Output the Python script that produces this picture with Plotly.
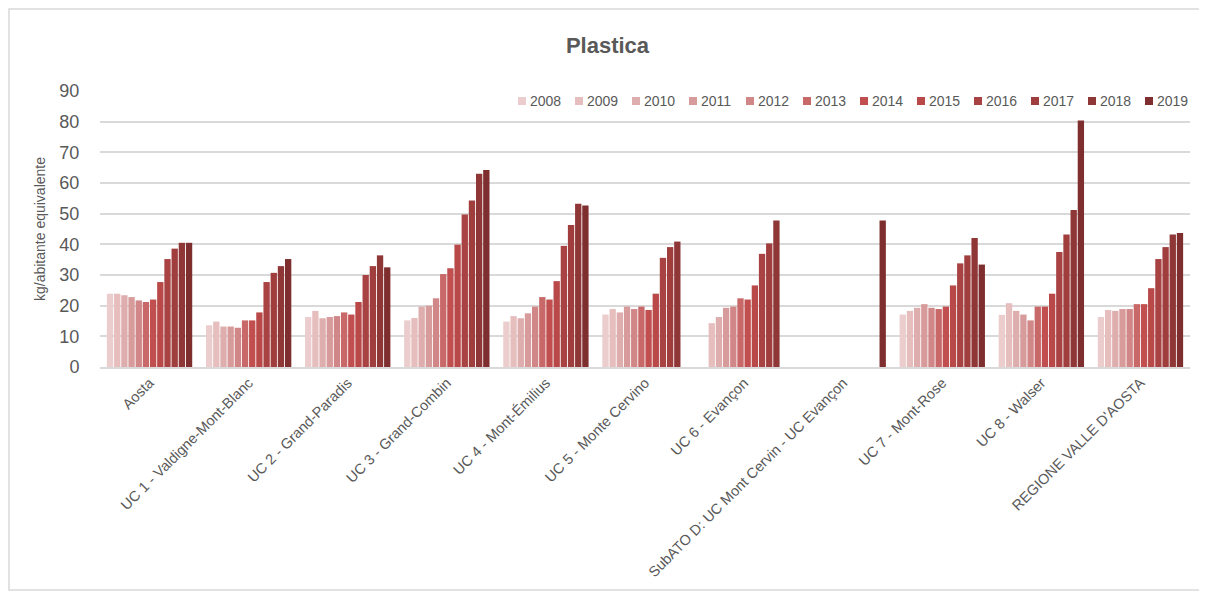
import plotly.graph_objects as go

years = ["2008", "2009", "2010", "2011", "2012", "2013", "2014", "2015", "2016", "2017", "2018", "2019"]

categories = [
    "Aosta",
    "UC 1 - Valdigne-Mont-Blanc",
    "UC 2 - Grand-Paradis",
    "UC 3 - Grand-Combin",
    "UC 4 - Mont-Émilius",
    "UC 5 - Monte Cervino",
    "UC 6 - Evançon",
    "SubATO D: UC Mont Cervin - UC Evançon",
    "UC 7 - Mont-Rose",
    "UC 8 - Walser",
    "REGIONE VALLE D'AOSTA",
]

# values per category, years 2008..2019 (None = no data)
aosta = [23.9, 23.9, 23.4, 22.8, 21.7, 21.2, 22.0, 27.7, 35.2, 38.6, 40.5, 40.5]
uc1 = [13.6, 14.8, 13.2, 13.2, 12.8, 15.2, 15.2, 17.8, 27.7, 30.7, 32.9, 35.2]
uc2 = [16.3, 18.3, 15.9, 16.3, 16.6, 17.8, 17.1, 21.2, 30.0, 32.9, 36.4, 32.5]
uc3 = [15.2, 16.0, 19.7, 20.0, 22.4, 30.3, 32.2, 39.9, 49.7, 54.3, 63.0, 64.2]
uc4 = [14.8, 16.6, 15.9, 17.5, 19.7, 22.8, 22.0, 28.0, 39.5, 46.3, 53.2, 52.7]
uc5 = [17.1, 18.9, 17.8, 19.7, 18.9, 19.7, 18.6, 23.9, 35.6, 39.1, 40.9, None]
uc6 = [None, 14.3, 16.3, 19.3, 19.7, 22.4, 22.0, 26.6, 36.9, 40.3, 47.8, None]
subato_d = [None, None, None, None, None, None, None, None, None, None, None, 47.8]
uc7 = [17.1, 18.3, 19.3, 20.5, 19.3, 18.9, 19.7, 26.6, 33.8, 36.4, 42.1, 33.4]
uc8 = [17.0, 20.8, 18.3, 17.1, 15.2, 19.7, 19.7, 23.9, 37.5, 43.2, 51.2, 80.4]
regione = [16.3, 18.6, 18.3, 18.9, 18.9, 20.5, 20.5, 25.7, 35.2, 39.1, 43.2, 43.7]

by_category = [aosta, uc1, uc2, uc3, uc4, uc5, uc6, subato_d, uc7, uc8, regione]

y_ticks = [0, 10, 20, 30, 40, 50, 60, 70, 80, 90]

colors = ["#EBCDCD", "#E6BEBE", "#DEAEAE", "#D89B9B", "#D18787", "#C96868",
          "#C14F4F", "#B94848", "#A94343", "#A03E3E", "#8F3636", "#7E2E2E"]

grey = "#595959"

fig = go.Figure()
for i, yr in enumerate(years):
    fig.add_trace(go.Bar(
        name=yr,
        x=categories,
        y=[vals[i] for vals in by_category],
        marker=dict(color=colors[i], line=dict(width=0)),
        showlegend=False,
    ))

# plot area geometry (figure px): left 92, width 1090, top 83, height 276
PL, PW, PT, PH = 92, 1090, 83, 276


def px_x(x):
    return (x - PL) / PW


def px_y(y):
    return (PT + PH - y) / PH


# legend drawn as a row of swatches + labels (Excel-style compact legend)
shapes = [dict(type="rect", xref="paper", yref="paper",
               x0=px_x(1), x1=px_x(1192), y0=px_y(582), y1=px_y(1),
               line=dict(color="#D9D9D9", width=1.5), fillcolor="rgba(0,0,0,0)", layer="below")]
annotations = []
leg_x0, leg_step, leg_yc = 510, 57, 93
for i, yr in enumerate(years):
    sx = leg_x0 + i * leg_step
    shapes.append(dict(type="rect", xref="paper", yref="paper",
                       x0=px_x(sx), x1=px_x(sx + 8), y0=px_y(leg_yc + 4), y1=px_y(leg_yc - 4),
                       line=dict(width=0), fillcolor=colors[i]))
    annotations.append(dict(text=yr, xref="paper", yref="paper", x=px_x(sx + 10), y=px_y(leg_yc),
                            xanchor="left", yanchor="middle", showarrow=False,
                            font=dict(size=14, color=grey)))

fig.update_layout(
    width=1199, height=589,
    barmode="group",
    bargap=0.13,
    bargroupgap=0.12,
    paper_bgcolor="white",
    plot_bgcolor="white",
    margin=dict(l=92, r=17, t=83, b=230),
    title=dict(text="<b>Plastica</b>", x=0.5, xanchor="center", y=0.937, yanchor="middle",
               font=dict(family="Liberation Sans, Arial", size=22, color=grey)),
    font=dict(family="Liberation Sans, Arial", color=grey),
    showlegend=False,
    xaxis=dict(tickangle=-45, tickfont=dict(size=14.5, color=grey), showgrid=False,
               showline=True, linecolor="#D9D9D9", linewidth=1.5, ticks=""),
    yaxis=dict(range=[0, 90], tickvals=y_ticks, tickfont=dict(size=18, color=grey),
               showgrid=True, gridcolor="#D9D9D9", gridwidth=1.5, zeroline=False,
               ticks="outside", ticklen=16, tickcolor="rgba(0,0,0,0)",
               title=dict(text="kg/abitante equivalente", font=dict(size=14, color=grey), standoff=10),
               showline=False),
    shapes=shapes,
    annotations=annotations,
)

fig.write_html("out.html")
